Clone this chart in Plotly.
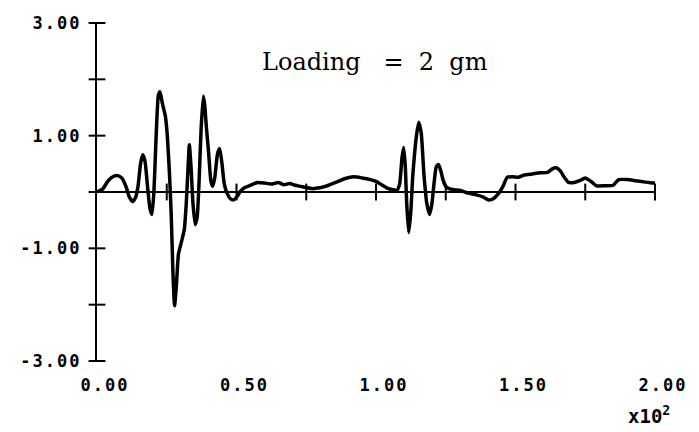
import plotly.graph_objects as go

# Recorded signal (time in units of 10^2, amplitude)
time = [
    0.000, 0.020, 0.040, 0.060, 0.075, 0.090, 0.105, 0.115, 0.128, 0.138,
    0.147, 0.156, 0.164, 0.172, 0.182, 0.190, 0.197, 0.204, 0.212, 0.220,
    0.226, 0.234, 0.245, 0.252, 0.260, 0.266, 0.272, 0.278, 0.284, 0.292,
    0.302, 0.313, 0.320, 0.326, 0.331, 0.337, 0.344, 0.352, 0.359, 0.366,
    0.373, 0.381, 0.386, 0.392, 0.400, 0.408, 0.414, 0.422, 0.432, 0.440,
    0.448, 0.456, 0.466, 0.478, 0.490, 0.502, 0.515, 0.530, 0.550, 0.575,
    0.600, 0.625, 0.650, 0.670, 0.690, 0.710, 0.730, 0.750, 0.770, 0.790,
    0.810, 0.830, 0.860, 0.890, 0.920, 0.950, 0.980, 1.000, 1.020, 1.040,
    1.060, 1.075, 1.085, 1.093, 1.099, 1.105, 1.110, 1.117, 1.124, 1.132,
    1.145, 1.153, 1.162, 1.172, 1.182, 1.192, 1.200, 1.208, 1.216, 1.224,
    1.232, 1.240, 1.250, 1.262, 1.280, 1.300, 1.330, 1.360, 1.385, 1.403,
    1.420, 1.440, 1.455, 1.470, 1.490, 1.510, 1.530, 1.560, 1.590, 1.615,
    1.635, 1.645, 1.660, 1.675, 1.690, 1.710, 1.730, 1.750, 1.770, 1.790,
    1.820, 1.850, 1.870, 1.900, 1.930, 1.960, 1.990, 2.000,
]
amplitude = [
    0.00, 0.05, 0.20, 0.28, 0.29, 0.24, 0.08, -0.08, -0.17, -0.10,
    0.10, 0.50, 0.66, 0.55, 0.05, -0.30, -0.40, 0.00, 1.00, 1.72,
    1.78, 1.58, 1.35, 1.00, 0.30, -0.40, -1.40, -2.02, -1.70, -1.10,
    -0.90, -0.66, -0.20, 0.40, 0.84, 0.45, -0.20, -0.58, -0.45, 0.20,
    1.10, 1.70, 1.55, 1.15, 0.70, 0.20, 0.10, 0.25, 0.68, 0.77,
    0.50, 0.15, -0.02, -0.12, -0.14, -0.08, 0.02, 0.08, 0.12, 0.17,
    0.16, 0.14, 0.17, 0.13, 0.15, 0.12, 0.10, 0.08, 0.06, 0.07,
    0.09, 0.12, 0.18, 0.24, 0.27, 0.25, 0.22, 0.19, 0.13, 0.07,
    0.04, 0.03, 0.15, 0.60, 0.79, 0.45, -0.20, -0.72, -0.40, 0.30,
    1.00, 1.24, 1.05, 0.30, -0.20, -0.40, -0.22, 0.15, 0.45, 0.49,
    0.38, 0.22, 0.10, 0.06, 0.04, 0.03, -0.02, -0.05, -0.09, -0.14,
    -0.12, -0.02, 0.10, 0.26, 0.27, 0.26, 0.30, 0.32, 0.34, 0.35,
    0.42, 0.43, 0.38, 0.26, 0.17, 0.17, 0.20, 0.25, 0.19, 0.11,
    0.11, 0.12, 0.22, 0.22, 0.20, 0.18, 0.16, 0.16,
]

x_label_vals = [0.0, 0.5, 1.0, 1.5, 2.0]
x_label_text = ["0.00", "0.50", "1.00", "1.50", "2.00"]
x_tick_vals = [0.25, 0.5, 0.75, 1.0, 1.25, 1.5, 1.75, 2.0]
y_label_vals = [-3, -1, 1, 3]
y_label_text = ["-3.00", "-1.00", "1.00", "3.00"]
y_tick_vals = [-3, -2, -1, 0, 1, 2, 3]

NB = "\u00a0"
title_text = "Loading" + NB * 3 + "=" + NB * 2 + "2" + NB * 2 + "gm"
scale_text = "x10<sup>2</sup>"

TICK_FONT = dict(family="DejaVu Sans Mono", size=17, color="black", weight="bold")


def spaced(s):
    return '<span style="letter-spacing:2px">' + s + "</span>"


fig = go.Figure()
fig.add_trace(go.Scatter(
    x=time, y=amplitude, mode="lines",
    line=dict(color="black", width=3.5, shape="spline", smoothing=0.5),
    showlegend=False, hoverinfo="skip",
))
# crossing tick marks on the horizontal axis (drawn along y = 0)
fig.add_trace(go.Scatter(
    x=x_tick_vals, y=[0] * len(x_tick_vals), mode="markers",
    marker=dict(symbol="line-ns", size=12, line=dict(color="black", width=2)),
    showlegend=False, hoverinfo="skip", cliponaxis=False,
))
# crossing tick marks on the vertical axis (drawn along x = 0)
fig.add_trace(go.Scatter(
    x=[0] * len(y_tick_vals), y=y_tick_vals, mode="markers",
    marker=dict(symbol="line-ew", size=12, line=dict(color="black", width=2)),
    showlegend=False, hoverinfo="skip", cliponaxis=False,
))

fig.update_layout(
    width=699, height=432,
    margin=dict(l=97, r=42, t=23, b=71),
    paper_bgcolor="white", plot_bgcolor="white",
    xaxis=dict(
        range=[0, 2], showgrid=False, zeroline=False, showline=False,
        tickmode="array", tickvals=x_label_vals,
        ticktext=[spaced(t) for t in x_label_text],
        ticks="", tickfont=TICK_FONT, ticklabelstandoff=12, ticklabelshift=8,
    ),
    yaxis=dict(
        range=[-3, 3], showgrid=False,
        zeroline=True, zerolinecolor="black", zerolinewidth=1.6,
        showline=True, linecolor="black", linewidth=2.2,
        tickmode="array", tickvals=y_label_vals,
        ticktext=[spaced(t) for t in y_label_text],
        ticks="", tickfont=TICK_FONT, ticklabelstandoff=10,
    ),
    annotations=[
        dict(text=title_text, xref="paper", yref="paper", x=0.498, y=0.885,
             xanchor="center", yanchor="middle", showarrow=False,
             font=dict(family="DejaVu Serif", size=24, color="black")),
        dict(text=scale_text, xref="paper", yref="paper", x=0.99, y=-0.16,
             xanchor="center", yanchor="middle", showarrow=False,
             font=dict(family="DejaVu Sans Mono", size=19, color="black",
                       weight="bold")),
    ],
)

fig.write_html("out.html")
